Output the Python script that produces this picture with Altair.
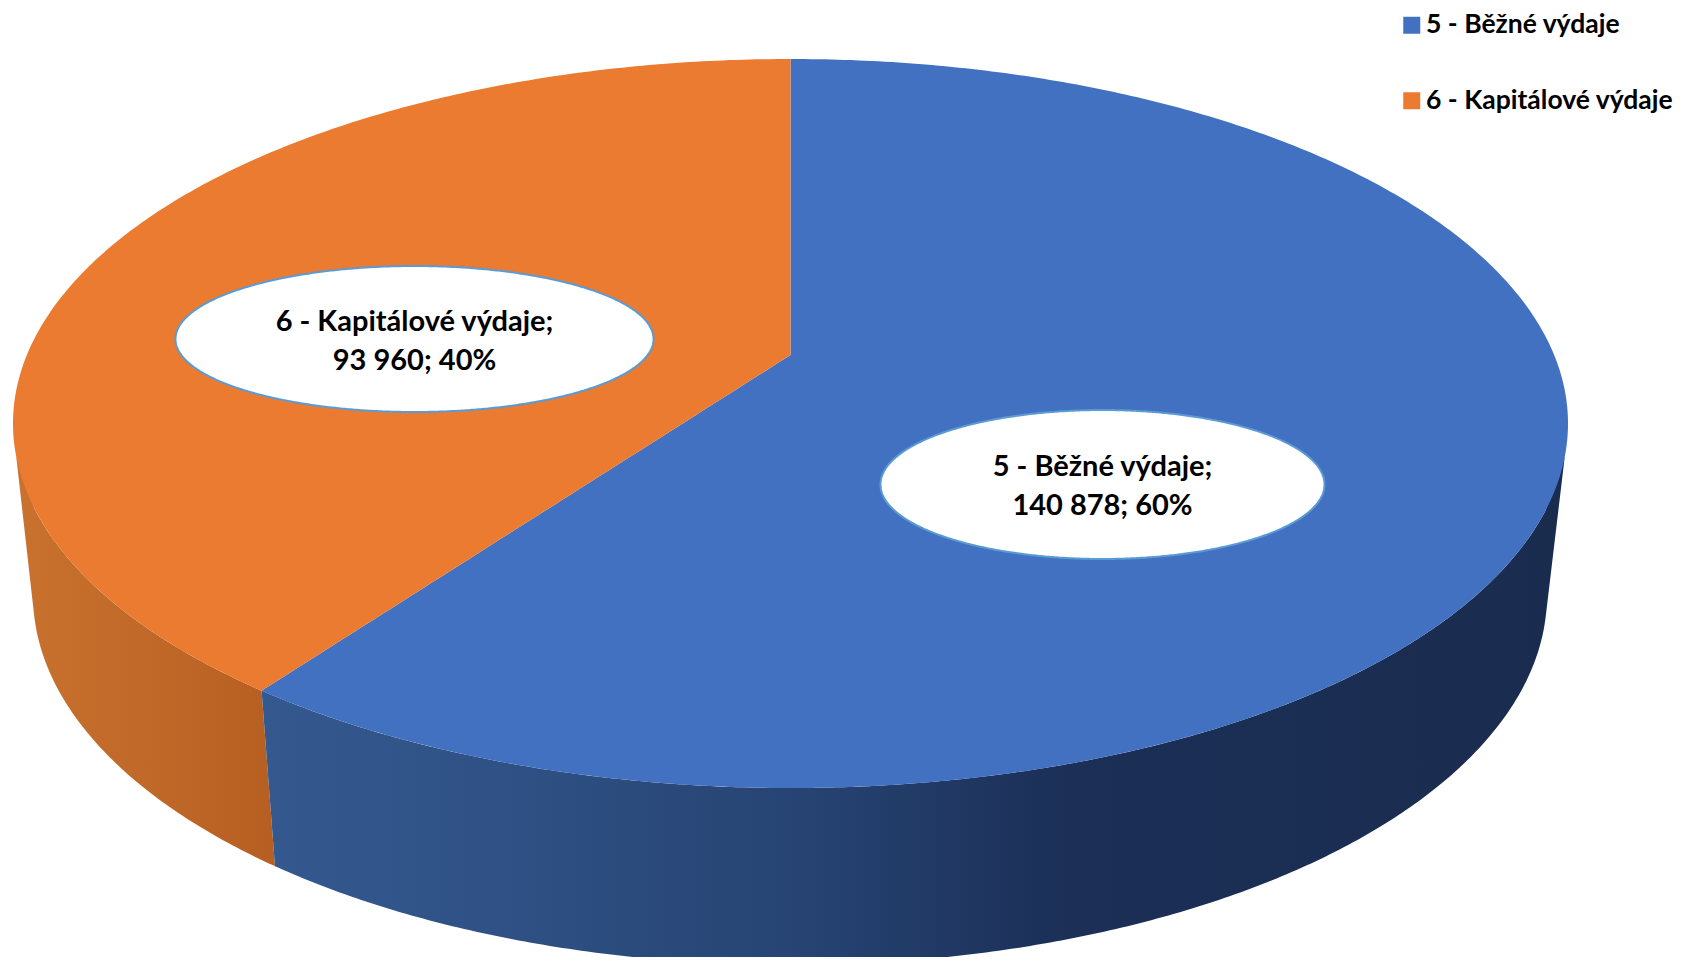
import altair as alt
import numpy as np
import pandas as pd

categories = ["5 - Běžné výdaje", "6 - Kapitálové výdaje"]
values = [140878, 93960]
colors = ["#4371c1", "#ea7b31"]

FONT = "Lato"
W, H = 1670, 949
x_scale = alt.Scale(domain=[8, 8 + W], range=[0, W], nice=False, zero=False)
y_scale = alt.Scale(domain=[8 + H, 8], range=[H, 0], nice=False, zero=False)

share = values[0] / sum(values)
angle = 2 * np.pi * share


class Rim:
    """A circle seen in perspective: an ellipse whose hub sits off-centre."""

    def __init__(self, cx, hub_y, top, bottom, half_width):
        self.cx, self.hub_y, self.top, self.bottom, self.rx = cx, hub_y, top, bottom, half_width
        up, down = bottom - hub_y, hub_y - top
        self.k = (up - down) / (up + down)
        self.a = up * (1 - self.k)
        self.b = half_width * np.sqrt(1 - self.k ** 2)
        self.cy = (top + bottom) / 2
        self.ry = (bottom - top) / 2

    def point(self, theta):
        u, v = np.sin(theta), -np.cos(theta)
        d = 1 - self.k * v
        return self.cx + self.b * u / d, self.hub_y + self.a * v / d

    def upper(self, x):
        s = np.clip((x - self.cx) / self.rx, -1, 1)
        return self.cy - self.ry * np.sqrt(1 - s ** 2)

    def lower(self, x):
        s = np.clip((x - self.cx) / self.rx, -1, 1)
        return self.cy + self.ry * np.sqrt(1 - s ** 2)


top_rim = Rim(790.5, 355, 59, 788, 777.5)
low_rim = Rim(790, 525.4, 225, 965, 757)

t = np.linspace(0, np.pi, 361)


def xgrid(rim, lo, hi, *extra):
    xs = rim.cx - rim.rx * np.cos(t)
    xs = xs[(xs > lo) & (xs < hi)]
    return np.unique(np.concatenate([xs, [lo, hi], extra]))


bx, by = top_rim.point(angle)
lx, ly = low_rim.point(angle)
hub_x, hub_y = top_rim.cx, top_rim.hub_y
top_left = top_rim.cx - top_rim.rx
top_right = top_rim.cx + top_rim.rx

# top face
xs = xgrid(top_rim, bx, top_right, hub_x + 0.01, hub_x)
blue_top = pd.DataFrame({
    "x": xs,
    "y": np.where(xs <= hub_x, by + (hub_y - by) * (xs - bx) / (hub_x - bx), top_rim.upper(xs)),
    "y2": top_rim.lower(xs),
    "series": categories[0],
})
xs = xgrid(top_rim, top_left, hub_x, bx)
orange_top = pd.DataFrame({
    "x": xs,
    "y": top_rim.upper(xs),
    "y2": np.where(xs <= bx, top_rim.lower(xs), by + (hub_y - by) * (xs - bx) / (hub_x - bx)),
    "series": categories[1],
})
top_df = pd.concat([blue_top, orange_top], ignore_index=True)

# side wall
wall_y = 457
wl = top_rim.cx - top_rim.rx * np.sqrt(1 - ((wall_y - top_rim.cy) / top_rim.ry) ** 2)
wr = 2 * top_rim.cx - wl
ll = low_rim.cx - 0.998 * low_rim.rx
lr = low_rim.cx + 0.998 * low_rim.rx
bend_y = low_rim.lower(ll)


def wall_bottom(x):
    y = low_rim.lower(x)
    y = np.where(x < ll, wall_y + (bend_y - wall_y) * (x - wl) / (ll - wl), y)
    y = np.where(x > lr, wall_y + (bend_y - wall_y) * (wr - x) / (wr - lr), y)
    return y


def seam(x):
    return by + (ly - by) * (x - bx) / (lx - bx)


xs = np.unique(np.concatenate([xgrid(low_rim, max(bx, ll), min(wr, lr)), [bx, lx, lr, wr]]))
blue_wall = pd.DataFrame({
    "x": xs,
    "y": top_rim.lower(xs),
    "y2": np.where(xs < lx, seam(xs), wall_bottom(xs)),
})
xs = np.unique(np.concatenate([xgrid(low_rim, ll, lx), [wl, ll, bx, lx]]))
orange_wall = pd.DataFrame({
    "x": xs,
    "y": np.where(xs < bx, top_rim.lower(xs), seam(xs)),
    "y2": wall_bottom(xs),
})


def gradient(stops):
    return alt.Gradient(
        gradient="linear", x1=0, x2=1, y1=0, y2=0,
        stops=[alt.GradientStop(offset=o, color=c) for o, c in stops],
    )


def area(df, **mark):
    return alt.Chart(df).mark_area(clip=True, **mark).encode(
        x=alt.X("x:Q", scale=x_scale, axis=None),
        y=alt.Y("y:Q", scale=y_scale, axis=None),
        y2="y2:Q",
    )


blue_wall_layer = area(blue_wall, color=gradient([
    (0, "#34598f"), (0.18, "#2f5185"), (0.42, "#264372"), (0.62, "#1b2f57"), (1, "#1a2c4e"),
]))
orange_wall_layer = area(orange_wall, color=gradient([
    (0, "#c9722e"), (1, "#b75f22"),
]))

top_layer = alt.Chart(top_df).mark_area().encode(
    x=alt.X("x:Q", scale=x_scale, axis=None),
    y=alt.Y("y:Q", scale=y_scale, axis=None),
    y2="y2:Q",
    color=alt.Color(
        "series:N",
        scale=alt.Scale(domain=categories, range=colors),
        legend=alt.Legend(
            title=None, orient="none", legendX=1390.5, legendY=4,
            labelFont=FONT, labelFontSize=26.5, labelFontWeight="bold", labelColor="#000000",
            symbolType="square", symbolSize=289, symbolStrokeWidth=0,
            rowPadding=48.5, labelOffset=1, padding=0, labelLimit=400,
        ),
    ),
)

label_x = [1102.5, 414.5]
label_cy = [484.5, 339]
label_rx = [222, 239]
label_ry = [74.5, 73]
baseline_1 = [476, 331]
baseline_2 = [515, 370]

texts = []
ellipses = []
for i, cat in enumerate(categories):
    pct = round(100 * values[i] / sum(values))
    number = f"{values[i]:,}".replace(",", " ")
    texts.append({"x": label_x[i], "y": baseline_1[i], "t": f"{cat};"})
    texts.append({"x": label_x[i], "y": baseline_2[i], "t": f"{number}; {pct}%"})
    xs = label_x[i] - label_rx[i] * np.cos(t)
    half = label_ry[i] * np.sin(t)
    ellipses.append(pd.DataFrame({"x": xs, "y": label_cy[i] - half, "y2": label_cy[i] + half, "series": cat}))

ell_layers = [area(e, color="#ffffff", stroke="#5b9bd5", strokeWidth=2) for e in ellipses]

text_layer = alt.Chart(pd.DataFrame(texts)).mark_text(
    font=FONT, fontSize=29, fontWeight="bold", color="#000000", align="center", baseline="alphabetic",
).encode(
    x=alt.X("x:Q", scale=x_scale, axis=None),
    y=alt.Y("y:Q", scale=y_scale, axis=None),
    text="t:N",
)

chart = alt.layer(
    orange_wall_layer, blue_wall_layer, top_layer, *ell_layers, text_layer,
).resolve_scale(color="independent").properties(
    width=W, height=H, padding=0, autosize=alt.AutoSizeParams(type="none"),
    background="#ffffff",
).configure_view(stroke=None)

chart.save("out.html", embed_options={"renderer": "svg", "actions": False})
